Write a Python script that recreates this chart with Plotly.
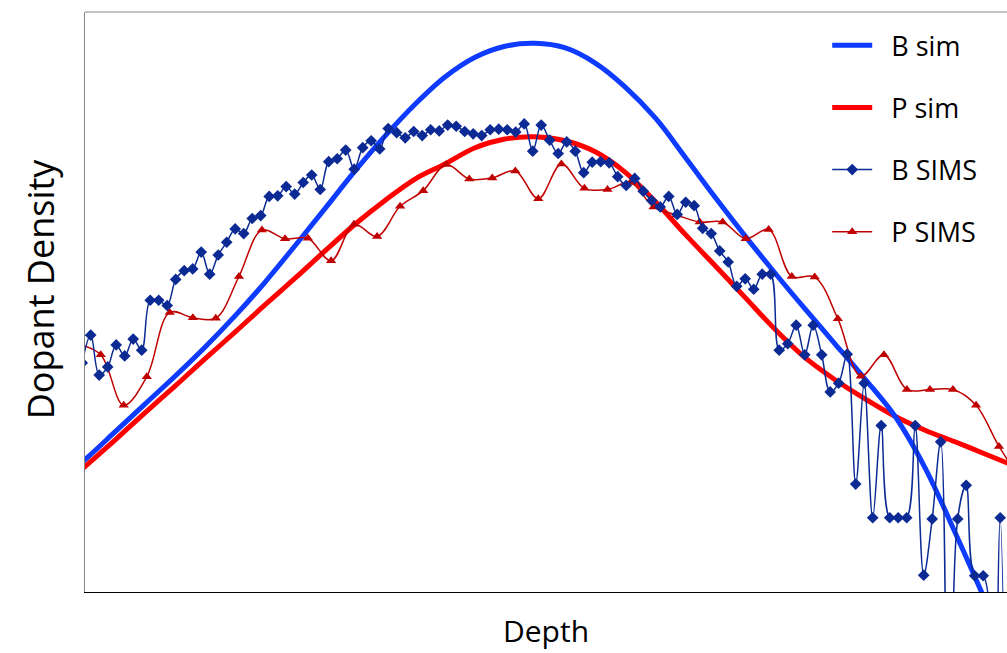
import plotly.graph_objects as go

# ---------------- data (arbitrary units) ----------------
depth_b = [0, 5, 10, 15, 20, 25, 30, 35, 40, 45,
           50, 55, 60, 65, 70, 75, 80, 85, 90, 95,
           100, 105, 110, 115, 120, 125, 130, 135, 140, 145,
           150, 155, 160, 165, 170, 175, 180, 185, 190, 195,
           200, 205, 210, 215, 220, 225, 230, 235, 240, 245,
           250, 255, 260, 265, 270, 275, 280, 285, 290, 295,
           300, 305, 310, 315, 320, 325, 330, 335, 340, 345,
           350, 355, 360, 365, 370, 375, 380, 385, 390, 395,
           400, 405, 410, 415, 420, 425, 430, 435, 440, 445,
           450, 455, 460, 465, 470, 475, 480, 485, 490, 495,
           500, 505, 510, 515, 520, 525, 530, 535, 540, 545]
b_sims = [39.5, 44.3, 37.4, 38.8, 42.6, 40.7, 43.6, 41.7, 50.3, 50.3,
          49.4, 53.9, 55.4, 55.7, 58.6, 54.8, 58.1, 60.3, 62.6, 61.8,
          64.4, 64.9, 68.2, 68.3, 69.9, 68.6, 70.6, 71.9, 69.4, 74.2,
          74.7, 76.2, 72.9, 76.6, 77.8, 76.4, 79.9, 79.2, 78.3, 79.4,
          78.7, 79.7, 79.5, 80.5, 80.3, 79.4, 79.0, 78.7, 79.7, 79.8,
          79.7, 79.3, 80.7, 76.0, 80.5, 77.9, 75.6, 77.6, 76.0, 72.3,
          74.1, 74.2, 74.0, 71.6, 70.1, 71.3, 69.1, 67.5, 66.4, 68.2,
          65.1, 67.2, 66.6, 62.7, 61.8, 58.8, 56.9, 52.7, 54.0, 52.2,
          54.8, 54.8, 41.7, 42.8, 46.0, 40.9, 46.0, 40.9, 34.5, 36.0,
          41.0, 18.6, 36.0, 12.8, 28.7, 12.8, 12.8, 12.8, 28.7, 2.9,
          12.6, 25.9, -70.0, 12.6, 18.4, 2.8, 2.8, -70.0, 12.8, -70.0]

depth_p = [-2.7, 10.9, 24.4, 38.0, 51.5, 65.1, 78.6, 92.2, 105.7, 119.3,
           132.8, 146.4, 159.9, 173.5, 187.0, 200.6, 214.1, 227.7, 241.2, 254.8,
           268.3, 281.9, 295.4, 309.0, 322.5, 336.1, 349.6, 363.2, 376.7, 390.3,
           403.8, 417.4, 430.9, 444.5, 458.0, 471.6, 485.1, 498.7, 512.2, 525.8,
           539.3, 552.9]
p_sims = [42.8, 40.9, 32.2, 37.1, 48.2, 47.3, 47.2, 54.4, 62.4, 60.9,
          61.0, 57.1, 63.4, 61.3, 66.5, 69.2, 73.7, 71.2, 71.4, 72.6,
          67.8, 73.8, 69.6, 69.4, 70.6, 66.4, 65.0, 63.8, 63.8, 60.9,
          62.5, 54.4, 54.3, 47.1, 37.2, 40.9, 34.9, 34.9, 34.9, 32.2,
          25.1, 19.0]

depth_sim = [-16.0, 1.6, 19.3, 36.9, 54.6, 72.2, 89.9, 107.5, 125.2, 142.8,
             160.5, 178.1, 195.8, 213.4, 231.1, 248.7, 266.4, 284.2, 301.8, 319.3,
             337.5, 354.6, 372.2, 389.9, 407.5, 425.2, 442.8, 460.5, 478.1, 495.8,
             513.4, 531.1, 548.7]
b_sim = [18.3, 22.8, 27.6, 32.4, 37.2, 42.2, 47.6, 53.4, 59.7, 66.1,
         72.6, 78.6, 84.1, 88.8, 92.2, 94.1, 94.6, 93.8, 91.2, 87.1,
         81.6, 75.0, 68.1, 61.4, 55.0, 48.8, 42.8, 36.7, 30.3, 21.4,
         10.3, -1.4, -13.4]
p_sim = [16.9, 21.6, 26.2, 30.9, 35.5, 40.2, 44.8, 49.5, 54.1, 58.8,
         63.4, 67.5, 71.2, 73.8, 76.6, 78.1, 78.5, 77.8, 75.9, 72.4,
         67.2, 61.7, 56.3, 50.8, 45.3, 40.4, 36.6, 33.3, 30.3, 27.9,
         25.9, 23.8, 21.7]

legend_names = ["B sim", "P sim", "B SIMS", "P SIMS"]
x_title = "Depth"
y_title = "Dopant Density"

FONT = "Open Sans"
PAD = "\u00a0\u00a0"

fig = go.Figure()
fig.add_trace(go.Scatter(x=depth_sim, y=p_sim, name=PAD + legend_names[1], mode="lines",
                         legendrank=2, legendgroup="2",
                         line=dict(color="#FF0000", width=5, shape="spline")))
fig.add_trace(go.Scatter(x=depth_sim, y=b_sim, name=PAD + legend_names[0], mode="lines",
                         legendrank=1, legendgroup="1",
                         line=dict(color="#0D3BFF", width=5, shape="spline")))
fig.add_trace(go.Scatter(x=depth_p, y=p_sims, name=PAD + legend_names[3], mode="lines+markers",
                         legendrank=4, legendgroup="4",
                         line=dict(color="#C00000", width=1.5, shape="spline"),
                         marker=dict(symbol="triangle-up", size=9, color="#C00000")))
fig.add_trace(go.Scatter(x=depth_b, y=b_sims, name=PAD + legend_names[2], mode="lines+markers",
                         legendrank=3, legendgroup="3",
                         line=dict(color="#0B2A94", width=1.5, shape="spline"),
                         marker=dict(symbol="diamond", size=9, color="#0B2A94")))

fig.update_layout(
    width=1007, height=653,
    margin=dict(l=85, r=0, t=12, b=61, pad=0),
    paper_bgcolor="white", plot_bgcolor="white",
    font=dict(family=FONT, color="black"),
    showlegend=True,
    legend=dict(x=0.805, y=0.984, xanchor="left", yanchor="top",
                font=dict(family=FONT, size=27, color="black"),
                bgcolor="rgba(0,0,0,0)", tracegroupgap=24, itemwidth=40,
                traceorder="grouped"),
    xaxis=dict(range=[1.65, 544.0], showline=True, linecolor="black", linewidth=1.3,
               showticklabels=False, ticks="", showgrid=False, zeroline=False,
               title=dict(text=x_title, font=dict(family=FONT, size=30), standoff=28),
               automargin=False),
    yaxis=dict(range=[0, 100], showline=True, linecolor="#868686", linewidth=1.2,
               showticklabels=False, ticks="", showgrid=False, zeroline=False,
               automargin=False),
    annotations=[dict(text=y_title, textangle=-90, xref="paper", yref="paper",
                      x=-0.0488, y=0.522, xanchor="center", yanchor="middle",
                      showarrow=False, font=dict(family=FONT, size=36, color="black"))],
    shapes=[dict(type="line", xref="paper", yref="paper", x0=0, x1=1, y0=1, y1=1,
                 line=dict(color="#868686", width=1.2))],
)

fig.write_html("out.html")
